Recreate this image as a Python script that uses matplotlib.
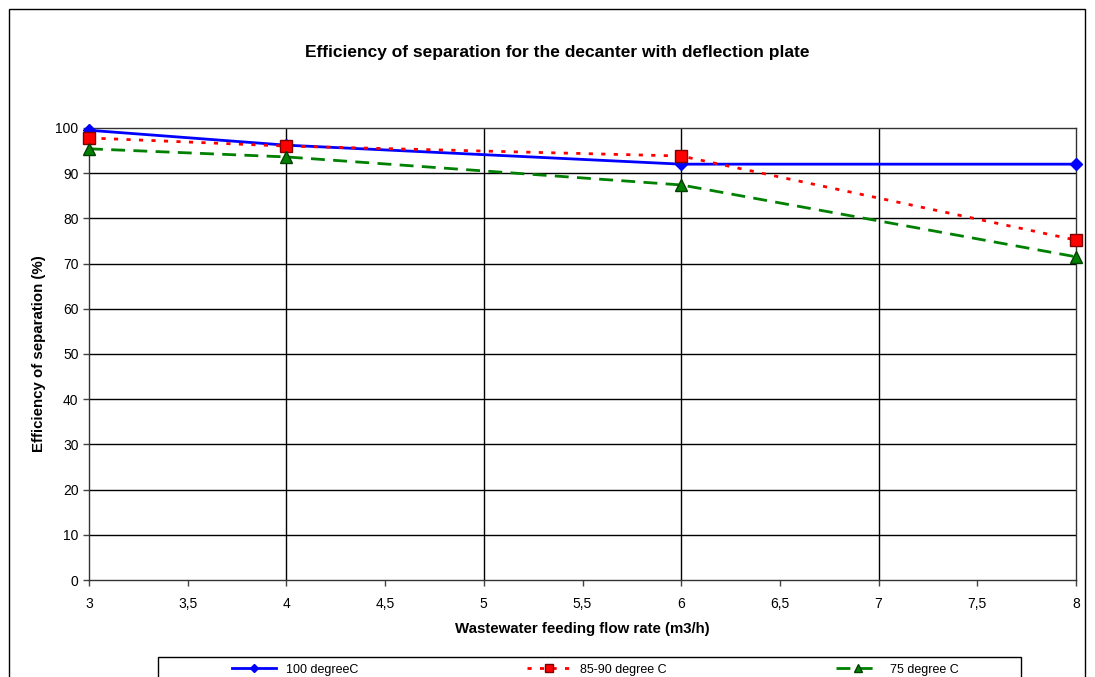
import matplotlib
matplotlib.use("Agg")
import matplotlib.pyplot as plt
from matplotlib.patches import Rectangle

plt.rcParams['font.family'] = ['Liberation Sans', 'DejaVu Sans']

title = "Efficiency of separation for the decanter with deflection plate"
x_label = "Wastewater feeding flow rate (m3/h)"
y_label = "Efficiency of separation (%)"

flow_rate = [3, 4, 6, 8]
eff_100 = [99.5, 96.2, 92.0, 92.0]
eff_85_90 = [97.8, 96.0, 93.8, 75.2]
eff_75 = [95.4, 93.6, 87.4, 71.5]

series_labels = ["100 degreeC", "85-90 degree C", "75 degree C"]

x_ticks = [3, 3.5, 4, 4.5, 5, 5.5, 6, 6.5, 7, 7.5, 8]
x_tick_labels = ["3", "3,5", "4", "4,5", "5", "5,5", "6", "6,5", "7", "7,5", "8"]
y_ticks = list(range(0, 101, 10))

W, H = 1095, 677
fig = plt.figure(figsize=(W / 100, H / 100), dpi=100)
ax = fig.add_axes([89 / W, 1 - 580 / H, (1076 - 89) / W, (580 - 128) / H])

ax.plot(flow_rate, eff_100, color='#0000ff', lw=2, marker='D', ms=6,
        mfc='#0000ff', mec='#0000ff', label=series_labels[0], zorder=3, clip_on=False)
ax.plot(flow_rate, eff_85_90, color='#ff0000', lw=2, ls=(0, (1.5, 3)), marker='s', ms=9,
        mfc='#ff0000', mec='#800000', mew=1, label=series_labels[1], zorder=4, clip_on=False)
ax.plot(flow_rate, eff_75, color='#008000', lw=2, ls=(0, (5, 3)), marker='^', ms=9,
        mfc='#008000', mec='#004000', mew=1, label=series_labels[2], zorder=5, clip_on=False)

ax.set_xlim(3, 8)
ax.set_ylim(0, 100)
ax.set_xticks(x_ticks)
ax.set_xticklabels(x_tick_labels, fontsize=10)
ax.set_yticks(y_ticks)
ax.set_yticklabels([str(v) for v in y_ticks], fontsize=10)
ax.grid(False)
for xv in [4, 5, 6, 7]:
    ax.axvline(xv, color='black', lw=1, zorder=1)
for yv in y_ticks[1:-1]:
    ax.axhline(yv, color='black', lw=1, zorder=1)
ax.tick_params(axis='both', which='major', direction='out', length=4, width=1, color='#444444')
ax.tick_params(axis='x', pad=8)
for s in ax.spines.values():
    s.set_color('#333333')
    s.set_linewidth(1)

ax.set_xlabel(x_label, fontsize=10.8, fontweight='bold', labelpad=8)
ax.set_ylabel(y_label, fontsize=10.8, fontweight='bold', labelpad=7)

fig.text(557 / W, 1 - 53 / H, title, ha='center', va='center', fontsize=12.5, fontweight='bold')

# legend box
fig.patches.append(Rectangle((158 / W, -0.05), (1021 - 158) / W, (1 - 657 / H) + 0.05,
                             transform=fig.transFigure, fill=False, edgecolor='black', lw=1))
leg = fig.legend(loc='upper center', bbox_to_anchor=(595 / W, 1 - 655 / H),
                 ncol=3, fontsize=9, frameon=False, handlelength=3.5,
                 columnspacing=13.5, borderpad=0.2, markerscale=0.7)

# outer border
fig.patches.append(Rectangle((9 / W, -0.05), (1085 - 9) / W, (1 - 9 / H) + 0.05,
                             transform=fig.transFigure, fill=False, edgecolor='black', lw=1))

fig.savefig("out.png", dpi=100)
